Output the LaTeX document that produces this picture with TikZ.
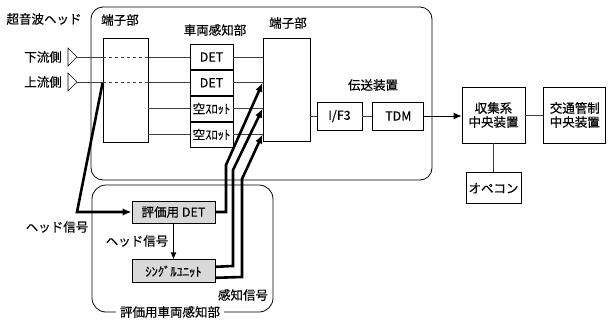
\documentclass[tikz,border=0pt]{standalone}
\usepackage{fontspec}
\setmainfont{Noto Sans CJK JP}[FakeBold=0.4]
\usetikzlibrary{positioning}
\usetikzlibrary{arrows.meta}

\begin{document}
\begin{tikzpicture}[x=1pt, y=-1pt, font=\fontsize{12.5}{14}\selectfont,
blocknode/.style={rectangle, draw=black, fill=white, line width=0.8pt, inner sep=1pt},
evalnode/.style={rectangle, draw=black, fill=black!15, line width=0.8pt, inner sep=1pt, minimum width=83pt},
thinline/.style={draw=black!75, line width=0.8pt},
sigline/.style={draw=black, line width=2.6pt, -{Latex[length=9pt,width=7.5pt]}},
labelnode/.style={inner sep=1pt}]
\useasboundingbox (0,0) rectangle (608,322);

% frames
\draw[line width=0.8pt, rounded corners=12pt] (91,7) rectangle (432,180);
\draw[line width=0.8pt, rounded corners=14pt] (92,185) rectangle (273,312);

% head side
\coordinate (downtip) at (77,57);
\coordinate (uptip) at (77,82);
\draw[line width=0.6pt] (68,48) -- (downtip) -- (68,66) -- cycle;
\draw[line width=0.6pt] (68,73) -- (uptip) -- (68,91) -- cycle;

\node[blocknode, minimum width=45pt, minimum height=104pt] (tanL) at (125.5,90) {};
\node[blocknode, minimum width=43pt, minimum height=25pt] (det1) at (211.5,57) {DET};
\node[blocknode, minimum width=43pt, minimum height=25pt] (det2) [below=0pt of det1] {DET};
\node[blocknode, minimum width=43pt, minimum height=25pt] (det3) [below=0pt of det2] {空ｽﾛｯﾄ};
\node[blocknode, minimum width=43pt, minimum height=25pt] (det4) [below=0pt of det3] {空ｽﾛｯﾄ};
\node[blocknode, minimum width=47pt, minimum height=103pt] (tanR) at (286.5,89.5) {};

% transmission
\node[blocknode, minimum width=45pt, minimum height=28pt] (ifthree) at (339.5,116) {I/F3};
\node[blocknode, minimum width=51pt, minimum height=28pt] (tdm) [right=10pt of ifthree] {TDM};
\node[blocknode, minimum width=63pt, minimum height=56pt, align=center] (shushu) at (493.5,115) {収集系\\中央装置};
\node[blocknode, minimum width=62pt, minimum height=56pt, align=center] (kotsu) [right=18pt of shushu] {交通管制\\中央装置};
\node[blocknode, minimum width=55pt, minimum height=31pt] (opecon) [below=29pt of shushu] {オペコン};

% evaluation unit
\node[evalnode, minimum height=22pt] (hyoka) at (173.5,212) {評価用 DET};
\node[evalnode, minimum height=23pt] (single) [below=36pt of hyoka] {ｼﾝｸﾞﾙﾕﾆｯﾄ};

% labels
\node[labelnode] (headlbl) at (44,19) {超音波ヘッド};
\node[labelnode, anchor=east] (downlbl) at (63,57) {下流側};
\node[labelnode, anchor=east] (uplbl) at (63,82) {上流側};
\node[labelnode] (tanLlbl) at (120,20) {端子部};
\node[labelnode] (detlbl) at (215,30) {車両感知部};
\node[labelnode] (tanRlbl) at (288,23) {端子部};
\node[labelnode] (denlbl) at (373,85) {伝送装置};
\node[labelnode] (hsig1) at (57,227) {ヘッド信号};
\node[labelnode] (hsig2) at (137,241) {ヘッド信号};
\node[labelnode] (kansig) at (243,295) {感知信号};
\node[labelnode, fill=white, inner xsep=4pt] (evallbl) at (170,312) {評価用車両感知部};

% thin connectors
\draw[thinline] (downtip) -- (tanL.west |- downtip);
\draw[thinline] (uptip) -- (tanL.west |- uptip);
\draw[thinline, dashed] (tanL.west |- det1) -- (tanL.east |- det1);
\draw[thinline, dashed] (tanL.west |- det2) -- (tanL.east |- det2);
\draw[thinline] (tanL.east |- det1) -- (det1.west);
\draw[thinline] (tanL.east |- det2) -- (det2.west);
\draw[thinline] (tanL.east |- det3) -- (det3.west);
\draw[thinline] (tanL.east |- det4) -- (det4.west);
\draw[thinline] (det1.east) -- (tanR.west |- det1);
\draw[thinline] (det2.east) -- (tanR.west |- det2);
\draw[thinline] (det3.east) -- (tanR.west |- det3);
\draw[thinline] (det4.east) -- (tanR.west |- det4);
\draw[thinline] (tanR.east |- ifthree) -- (ifthree.west);
\draw[thinline] (ifthree.east) -- (tdm.west);
\draw[draw=black, line width=1pt, -{Latex[length=8pt,width=7pt]}] (tdm.east) -- (shushu.west |- tdm);
\draw[thinline] (shushu.east |- kotsu) -- (kotsu.west);
\draw[thinline] (shushu.south) -- (opecon.north);
\draw[draw=black, line width=0.8pt, -{Latex[length=7pt,width=6pt]}] (hyoka.south) -- (single.north);

% signal lines
\coordinate (hbend) at (77,212);
\draw[sigline] (tanL.west |- det2) -- (hbend) -- (hyoka.west);
\draw[sigline] (hyoka.east) -- (226,212) -- (226,165) -- (tanR.west |- det2);
\draw[sigline] ([yshift=4.5pt]single.east) -- (233,266) -- (233,170) -- (tanR.west |- det3);
\draw[sigline] ([yshift=-6.5pt]single.east) -- (242,277) -- (242,179) -- (tanR.west |- det4);
\end{tikzpicture}
\end{document}
